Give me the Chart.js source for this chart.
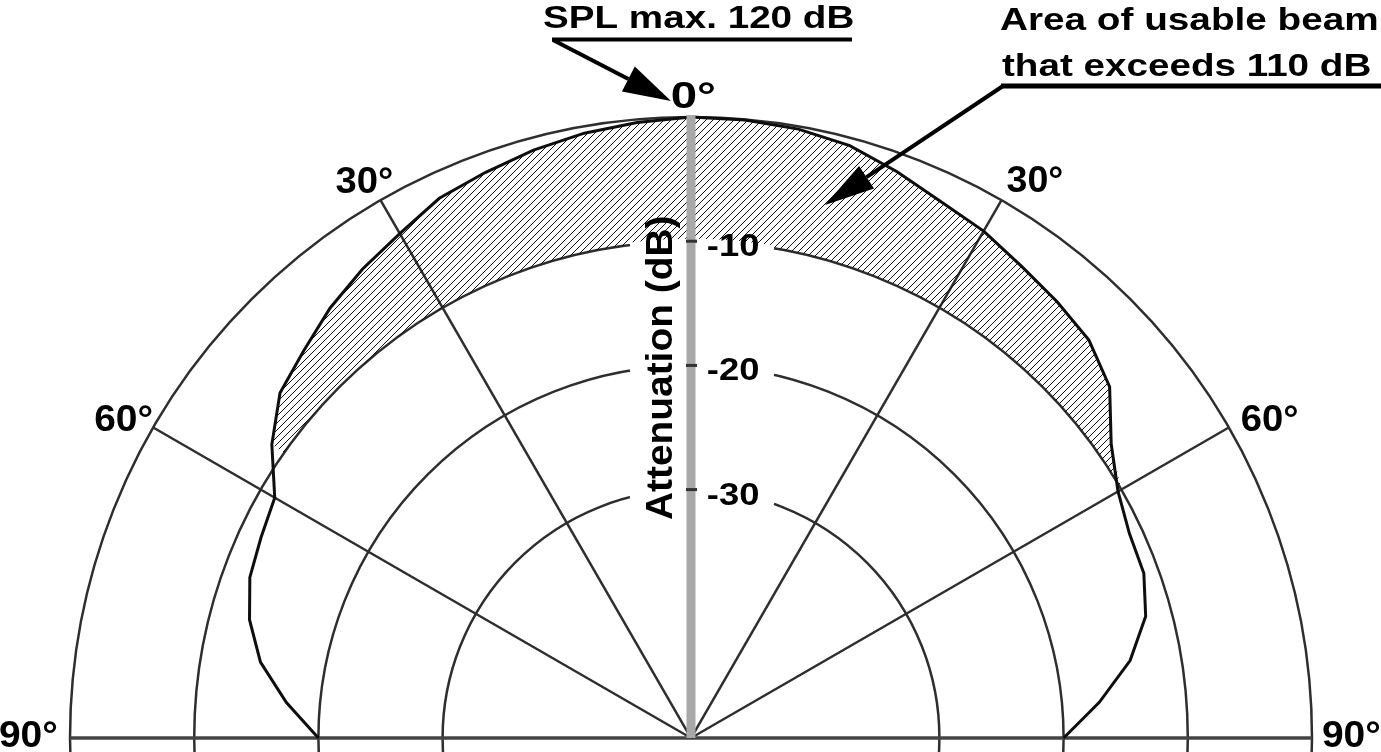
<!DOCTYPE html>
<html>
<head>
<meta charset="utf-8">
<title>Usable beam</title>
<script src="https://cdn.jsdelivr.net/npm/chart.js@4.4.1/dist/chart.umd.min.js"></script>
<style>
  html, body { margin: 0; padding: 0; background: #fff; overflow: hidden; }
  #frame { width: 1381px; height: 752px; overflow: hidden; position: relative; background: #fff; }
  canvas { display: block; }
</style>
</head>
<body>
<div id="frame"><canvas id="beam" width="1381" height="1380"></canvas></div>
<script>
// beam response, left (-) to right (+) of the axis, 0 dB = SPL max 120 dB
const angleDeg = [-90, -85, -80, -75, -70, -65, -60, -55, -50, -45, -40, -35, -30, -25, -20, -15, -10, -5,
  0, 5, 10, 15, 20, 25, 30, 35, 40, 45, 50, 55, 60, 65, 70, 75, 80, 85, 90];
const levelDb = [-20, -17.3, -14.8, -13.2, -12.2, -11.8, -11.3, -8.8, -6.8, -5.9, -4.8, -3.9, -3.1, -2.05, -1.55, -1.0, -0.55, -0.25,
  0, -0.05, -0.22, -0.62, -1.48, -2.36, -2.87, -3.62, -4.14, -4.69, -6.0, -8.7, -10.3, -11.05, -11.2, -12.1, -14.1, -17.0, -20];
const ringDb = [0, -10, -20, -30];
const tickDb = [-10, -20, -30];
const tickLabels = ['-10', '-20', '-30'];
const spokeDeg = [-90, -60, -30, 0, 30, 60, 90];
const spokeLabels = ['90°', '60°', '30°', '0°', '30°', '60°', '90°'];
const usableDb = -10;   // 110 dB
const usableFrom = -55;
const usableTo = 60;
const axisTitle = 'Attenuation (dB)';
const maxNote = 'SPL max. 120 dB';
const areaNote = ['Area of usable beam', 'that exceeds 110 dB'];

// radar needs a full turn of slots; the lower half stays empty and off screen
const STEP = 5;
const slots = Array.from({ length: 360 / STEP }, (_, i) => angleDeg[0] + i * STEP);
const levelData = slots.map((a, i) => (i < levelDb.length ? levelDb[i] : null));
const usableData = slots.map((a, i) =>
  i < levelDb.length && a >= usableFrom && a <= usableTo ? Math.max(levelDb[i], usableDb) : null);

const FONT = '"Liberation Sans", Arial, sans-serif';
const canvas = document.getElementById('beam');

function makeHatch() {
  const c = document.createElement('canvas');
  c.width = 7; c.height = 7;
  const g = c.getContext('2d');
  g.strokeStyle = '#111';
  g.lineWidth = 1;
  g.beginPath();
  g.moveTo(-1, 8); g.lineTo(8, -1);
  g.moveTo(-1, 1); g.lineTo(1, -1);
  g.moveTo(6, 8); g.lineTo(8, 6);
  g.stroke();
  return canvas.getContext('2d').createPattern(c, 'repeat');
}

// draws bold text so that its ink starts at `left` and is `ink` px wide
function inkText(ctx, text, left, baseline, size, ink) {
  ctx.font = 'bold ' + size + 'px ' + FONT;
  ctx.textAlign = 'left';
  ctx.textBaseline = 'alphabetic';
  const m = ctx.measureText(text);
  const s = ink / (m.actualBoundingBoxLeft + m.actualBoundingBoxRight);
  ctx.save();
  ctx.translate(left + m.actualBoundingBoxLeft * s, baseline);
  ctx.scale(s, 1);
  ctx.fillText(text, 0, 0);
  ctx.restore();
}

function arrow(ctx, x0, y0, x1, y1, headLen, headHalf, width) {
  const a = Math.atan2(y1 - y0, x1 - x0);
  const bx = x1 - headLen * Math.cos(a), by = y1 - headLen * Math.sin(a);
  ctx.lineWidth = width;
  ctx.beginPath(); ctx.moveTo(x0, y0); ctx.lineTo(bx, by); ctx.stroke();
  ctx.beginPath();
  ctx.moveTo(x1, y1);
  ctx.lineTo(bx + headHalf * Math.sin(a), by - headHalf * Math.cos(a));
  ctx.lineTo(bx - headHalf * Math.sin(a), by + headHalf * Math.cos(a));
  ctx.closePath(); ctx.fill();
}

// label placement, relative to the outer end of each spoke
const spokeLabelDx = [-70, -58, -45, -19, 5, 13, 11];
const spokeLabelDy = [9, 3, -7, -9, -8, 3, 9];
const spokeLabelInk = [57, 57, 57, 43, 56, 56, 57];

const overlay = {
  id: 'overlay',
  afterDatasetsDraw(chart) {
    const r = chart.scales.r;
    const ctx = chart.ctx;
    const cx = r.xCenter, cy = r.yCenter;
    ctx.save();

    // rings are broken where the axis texts sit
    ctx.strokeStyle = '#fff';
    ctx.lineWidth = 5;
    tickDb.forEach(v => {
      const d = r.getDistanceFromCenterForValue(v);
      [[-61, -5], [6, 83]].forEach(([a, b]) => {
        ctx.beginPath();
        ctx.arc(cx, cy, d, -Math.PI / 2 + Math.asin(a / d), -Math.PI / 2 + Math.asin(b / d));
        ctx.stroke();
      });
    });

    // 0 deg axis
    const top = r.getPointPositionForValue(slots.indexOf(0), 0);
    ctx.strokeStyle = '#a8a8a8';
    ctx.lineWidth = 9;
    ctx.beginPath(); ctx.moveTo(cx, cy); ctx.lineTo(top.x, top.y - 2); ctx.stroke();
    ctx.strokeStyle = '#333';
    ctx.lineWidth = 3;
    tickDb.forEach(v => {
      const y = cy - r.getDistanceFromCenterForValue(v);
      ctx.beginPath(); ctx.moveTo(cx - 5, y); ctx.lineTo(cx + 6, y); ctx.stroke();
    });

    ctx.fillStyle = '#000';
    tickDb.forEach((v, i) => {
      const y = cy - r.getDistanceFromCenterForValue(v);
      inkText(ctx, tickLabels[i], cx + 17, y + 15, 31, 50);
    });

    spokeDeg.forEach((a, i) => {
      const p = r.getPointPositionForValue(slots.indexOf(a), 0);
      inkText(ctx, spokeLabels[i], p.x + spokeLabelDx[i], p.y + spokeLabelDy[i], 37, spokeLabelInk[i]);
    });

    ctx.save();
    ctx.translate(cx - 19, 520);
    ctx.rotate(-Math.PI / 2);
    inkText(ctx, axisTitle, 0, 0, 37, 303);
    ctx.restore();

    // notes
    ctx.strokeStyle = '#000';
    inkText(ctx, maxNote, 543, 28, 32, 310);
    ctx.lineWidth = 4;
    ctx.beginPath(); ctx.moveTo(552, 39.5); ctx.lineTo(852, 39.5); ctx.stroke();
    arrow(ctx, 553, 40, 671, 101, 48, 14, 4);

    inkText(ctx, areaNote[0], 1000, 30, 32, 377);
    inkText(ctx, areaNote[1], 1002, 76, 32, 368);
    ctx.lineWidth = 5;
    ctx.beginPath(); ctx.moveTo(1001, 86); ctx.lineTo(1381, 86); ctx.stroke();
    arrow(ctx, 1003, 86, 825, 205, 50, 13.5, 4);

    ctx.restore();
  }
};

function spokeStyle(index) {
  const a = slots[index];
  if (a === -90 || a === 90) return { color: '#444', width: 3.5 };
  if (a === -60 || a === -30 || a === 30 || a === 60) return { color: '#2e2e2e', width: 2.5 };
  return { color: 'rgba(0,0,0,0)', width: 0 };
}

new Chart(canvas, {
  type: 'radar',
  data: {
    labels: slots,
    datasets: [
      {
        label: 'Level',
        data: levelData,
        borderColor: '#0e0e0e',
        borderWidth: 3,
        pointRadius: 0,
        fill: false,
        spanGaps: false
      },
      {
        label: 'Usable beam',
        data: usableData,
        borderWidth: 0,
        pointRadius: 0,
        backgroundColor: makeHatch(),
        fill: { value: usableDb },
        spanGaps: false
      }
    ]
  },
  options: {
    responsive: false,
    devicePixelRatio: 1,
    animation: false,
    events: [],
    layout: { padding: { left: 70, right: 68, top: 117, bottom: 20 } },
    plugins: {
      legend: { display: false },
      tooltip: { enabled: false }
    },
    scales: {
      r: {
        min: -50,
        max: 0,
        startAngle: -90,
        ticks: { display: false, stepSize: 10 },
        pointLabels: { display: false },
        grid: {
          circular: true,
          color: '#2e2e2e',
          lineWidth: c => (c.tick && ringDb.includes(c.tick.value) ? 2.5 : 0)
        },
        angleLines: {
          color: c => spokeStyle(c.index).color,
          lineWidth: c => spokeStyle(c.index).width
        }
      }
    }
  },
  plugins: [overlay]
});
</script>
</body>
</html>
